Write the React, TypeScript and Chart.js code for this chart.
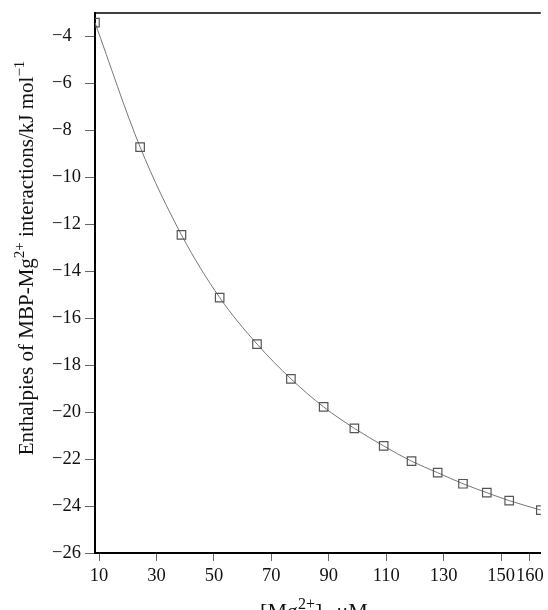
import React, { useEffect, useRef } from 'react';
import { Chart, registerables } from 'chart.js';

Chart.register(...registerables);

// Data
const mgConc = [8.6, 24.3, 38.7, 52.0, 65.0, 76.8, 88.2, 98.9, 109.1, 118.8, 127.9, 136.7, 145.0, 152.8, 163.8];
const enthalpy = [-3.41, -8.71, -12.45, -15.12, -17.1, -18.58, -19.78, -20.69, -21.44, -22.09, -22.58, -23.05, -23.43, -23.77, -24.17];
const xTickValues = [10, 30, 50, 70, 90, 110, 130, 150, 160];
const yTickValues = [-26, -24, -22, -20, -18, -16, -14, -12, -10, -8, -6, -4];

type Seg = { t: string; sup?: boolean; sub?: boolean };
const yTitle: Seg[] = [
  { t: 'Enthalpies of MBP-Mg' },
  { t: '2+', sup: true },
  { t: ' interactions/kJ mol' },
  { t: '\u22121', sup: true },
];
const xTitle: Seg[] = [
  { t: '[Mg' },
  { t: '2+', sup: true },
  { t: ']' },
  { t: 'T/', sub: true },
  { t: '\u03bcM' },
];

const FONT = '"Liberation Serif", "Times New Roman", serif';

function drawRich(ctx: CanvasRenderingContext2D, segs: Seg[], x: number, y: number, size: number) {
  const small = Math.round(size * 0.72);
  let total = 0;
  for (const s of segs) {
    ctx.font = `${s.sup || s.sub ? small : size}px ${FONT}`;
    total += ctx.measureText(s.t).width;
  }
  let cx = x - total / 2;
  ctx.textAlign = 'left';
  ctx.textBaseline = 'alphabetic';
  for (const s of segs) {
    ctx.font = `${s.sup || s.sub ? small : size}px ${FONT}`;
    const dy = s.sup ? -size * 0.42 : s.sub ? size * 0.28 : 0;
    ctx.fillText(s.t, cx, y + dy);
    cx += ctx.measureText(s.t).width;
  }
}

const decorPlugin = {
  id: 'decor',
  afterDraw(chart: any) {
    const { ctx, chartArea } = chart;
    ctx.save();
    // top frame line
    ctx.strokeStyle = '#000';
    ctx.lineWidth = 1.5;
    ctx.beginPath();
    ctx.moveTo(chartArea.left - 1, chartArea.top);
    ctx.lineTo(chartArea.right, chartArea.top);
    ctx.stroke();
    ctx.fillStyle = '#111';
    // x title
    drawRich(ctx, xTitle, 314, 618, 22);
    // y title
    ctx.translate(33, 258);
    ctx.rotate(-Math.PI / 2);
    drawRich(ctx, yTitle, 0, 0, 21);
    ctx.restore();
  },
};

export default function App() {
  const ref = useRef<HTMLCanvasElement | null>(null);
  useEffect(() => {
    if (!ref.current) return;
    const chart = new Chart(ref.current, {
      type: 'line',
      data: {
        datasets: [
          {
            data: mgConc.map((x, i) => ({ x, y: enthalpy[i] })),
            borderColor: '#777',
            borderWidth: 1,
            backgroundColor: 'rgba(0,0,0,0)',
            pointStyle: 'rect',
            pointRadius: 6,
            pointBorderColor: '#555',
            pointBorderWidth: 1.2,
            pointBackgroundColor: 'rgba(0,0,0,0)',
            cubicInterpolationMode: 'monotone',
            fill: false,
          },
        ],
      },
      options: {
        responsive: false,
        animation: false,
        layout: { padding: { top: 13, left: 52, right: 0, bottom: 0 } },
        plugins: { legend: { display: false }, tooltip: { enabled: false } },
        scales: {
          x: {
            type: 'linear',
            min: 8.6,
            max: 163.8,
            afterBuildTicks: (s: any) => {
              s.ticks = xTickValues.map((v) => ({ value: v }));
            },
            afterFit: (s: any) => {
              s.height = 57;
              s.paddingLeft = 0;
              s.paddingRight = 0;
            },
            ticks: {
              autoSkip: false,
              maxRotation: 0,
              padding: 4,
              color: '#111',
              font: { family: FONT, size: 18.5 },
              callback: (v: any) => String(v),
            },
            grid: { drawOnChartArea: false, drawTicks: true, tickLength: 8, color: '#666', lineWidth: 1 },
            border: { display: true, color: '#000', width: 2 },
          },
          y: {
            type: 'linear',
            min: -26,
            max: -3,
            afterBuildTicks: (s: any) => {
              s.ticks = yTickValues.map((v) => ({ value: v }));
            },
            afterFit: (s: any) => {
              s.width = 43;
              s.paddingTop = 0;
              s.paddingBottom = 0;
            },
            ticks: {
              autoSkip: false,
              padding: 4,
              crossAlign: 'far',
              color: '#111',
              font: { family: FONT, size: 18.5 },
              callback: (v: any) => String(v).replace('-', '\u2212'),
            },
            grid: { drawOnChartArea: false, drawTicks: true, tickLength: 10, color: '#666', lineWidth: 1 },
            border: { display: true, color: '#000', width: 2 },
          },
        },
      },
      plugins: [decorPlugin],
    });
    return () => chart.destroy();
  }, []);
  return (
    <div style={{ position: 'fixed', left: 0, top: 0, width: 548, height: 610, background: '#fff', overflow: 'hidden' }}>
      <canvas ref={ref} width={548} height={610} />
    </div>
  );
}
